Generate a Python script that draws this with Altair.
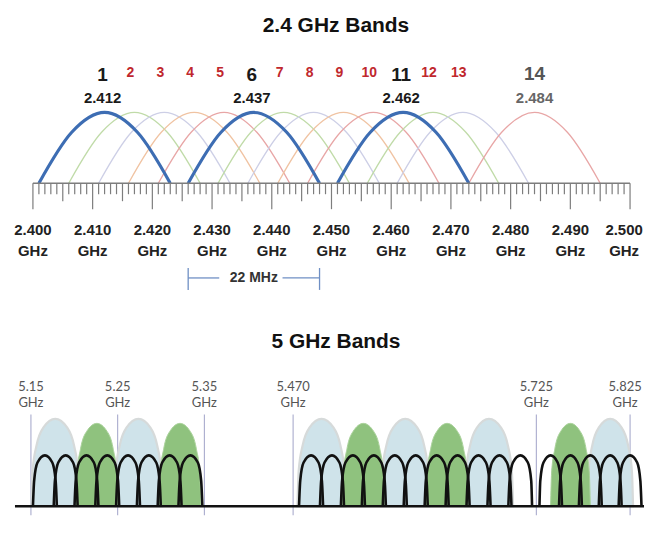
import altair as alt
import pandas as pd

# ---------------- 2.4 GHz data ----------------
CH24 = [1, 2, 3, 4, 5, 6, 7, 8, 9, 10, 11, 12, 13, 14]
CH24_CENTER_GHZ = [2.412, 2.417, 2.422, 2.427, 2.432, 2.437, 2.442,
                   2.447, 2.452, 2.457, 2.462, 2.467, 2.472, 2.484]
CH24_NONOVERLAP = [1, 6, 11]
CH24_WIDTH_GHZ = 0.022
AXIS_LABEL_GHZ = [2.400, 2.410, 2.420, 2.430, 2.440, 2.450,
                  2.460, 2.470, 2.480, 2.490, 2.500]
RULER_MHZ = list(range(2400, 2501))
SPAN_CH = 6  # the "22 MHz" bracket marks channel 6

# ---------------- 5 GHz data ----------------
CH5 = [36, 40, 44, 48, 52, 56, 60, 64,
       100, 104, 108, 112, 116, 120, 124, 128, 132, 136, 140,
       149, 153, 157, 161, 165]
CH5_CENTER_MHZ = [5180, 5200, 5220, 5240, 5260, 5280, 5300, 5320,
                  5500, 5520, 5540, 5560, 5580, 5600, 5620, 5640, 5660, 5680, 5700,
                  5745, 5765, 5785, 5805, 5825]
BOND_BLUE_MHZ = [5190, 5270, 5510, 5590, 5670, 5805]
BOND_GREEN_MHZ = [5230, 5310, 5550, 5630, 5765]
EDGE_MHZ = [5150, 5250, 5350, 5470, 5725, 5825]
EDGE_LABEL = ["5.15", "5.25", "5.35", "5.470", "5.725", "5.825"]

# ---------------- shape profiles (glyph styles) ----------------
ARC_T = [-1, -0.5, 0, 0.5, 1]
ARC_H = [0, 0.72, 1, 0.72, 0]
BLK_T = [-1, -0.9, -0.62, 0, 0.62, 0.9, 1]
BLK_H = [0, 0.5, 0.86, 1, 0.86, 0.5, 0]
FILL_T = [-1, -0.95, -0.78, -0.5, 0, 0.5, 0.78, 0.95, 1]
FILL_H = [0, 0.4, 0.7, 0.9, 1, 0.9, 0.7, 0.4, 0]

FONT = "Liberation Sans"
W = 638
H_TOP = 296
H_BOT = 212


def arch_frame(ids, centers, half, t_prof, h_prof, peak=1.0):
    rows = []
    for cid, c in zip(ids, centers):
        for t, h in zip(t_prof, h_prof):
            rows.append({"id": str(cid), "x": c + t * half, "lvl": h * peak})
    return pd.DataFrame(rows)


# ================= TOP PANEL =================
BASE_Y = 175
x24 = alt.Scale(domain=[2.400, 2.500], range=[25, 624], nice=False, zero=False)
y24 = alt.Scale(domain=[0, 1], range=[BASE_Y, BASE_Y - 71], nice=False, zero=False)
X24 = lambda f="x": alt.X(f"{f}:Q", scale=x24, axis=None)

thin_ids = [c for c in CH24 if c not in CH24_NONOVERLAP]
thin_centers = [CH24_CENTER_GHZ[CH24.index(c)] for c in thin_ids]
thick_centers = [CH24_CENTER_GHZ[CH24.index(c)] for c in CH24_NONOVERLAP]

cycle = {1: "#c0dba8", 2: "#cdcfe6", 3: "#f0c3a2", 4: "#e8a6a6"}
thin_colors = [("#e8a6a6" if c == 14 else cycle[(c - 1) % 5]) for c in thin_ids]

arcs_thin = arch_frame(thin_ids, thin_centers, CH24_WIDTH_GHZ / 2, ARC_T, ARC_H)
arcs_thick = arch_frame(CH24_NONOVERLAP, thick_centers, CH24_WIDTH_GHZ / 2, ARC_T, ARC_H)

thin_layer = alt.Chart(arcs_thin).mark_line(interpolate="monotone", strokeWidth=1.3).encode(
    x=X24(), y=alt.Y("lvl:Q", scale=y24, axis=None),
    color=alt.Color("id:N", scale=alt.Scale(domain=[str(c) for c in thin_ids], range=thin_colors), legend=None),
    detail="id:N")
thick_layer = alt.Chart(arcs_thick).mark_line(interpolate="monotone", strokeWidth=3.2, color="#3d6db3").encode(
    x=X24(), y=alt.Y("lvl:Q", scale=y24, axis=None), detail="id:N")

ruler = pd.DataFrame({"x": [m / 1000 for m in RULER_MHZ], "m": RULER_MHZ})
ruler["kind"] = ["major" if m % 10 == 0 else ("mid" if m % 5 == 0 else "minor") for m in RULER_MHZ]

tick_layers = []
for kind, length in [("minor", 11), ("mid", 18), ("major", 26)]:
    tick_layers.append(
        alt.Chart(ruler[ruler.kind == kind]).mark_rule(color="#7d7d7d", strokeWidth=1.2).encode(
            x=X24(), y=alt.value(BASE_Y), y2=alt.value(BASE_Y + length)))

ruler_base = alt.Chart(pd.DataFrame({"a": [AXIS_LABEL_GHZ[0]], "b": [AXIS_LABEL_GHZ[-1]]})).mark_rule(
    color="#7d7d7d", strokeWidth=1.3).encode(x=X24("a"), x2="b:Q", y=alt.value(BASE_Y))

axlab = pd.DataFrame({"x": AXIS_LABEL_GHZ})
axlab_in = axlab.iloc[:-1]
axlab_last = axlab.iloc[-1:]
axis_labels = []
for df, dx in [(axlab_in, 0), (axlab_last, -6)]:
    axis_labels.append(alt.Chart(df).mark_text(font=FONT, fontSize=15, fontWeight="bold", color="#222", dx=dx).encode(
        x=X24(), y=alt.value(222), text=alt.Text("x:Q", format=".3f")))
    axis_labels.append(alt.Chart(df).mark_text(font=FONT, fontSize=15, fontWeight="bold", color="#222", dx=dx).encode(
        x=X24(), y=alt.value(243), text=alt.value("GHz")))

lab = pd.DataFrame({"id": [str(c) for c in CH24], "x": CH24_CENTER_GHZ})
lab_black = lab[lab.id.isin([str(c) for c in CH24_NONOVERLAP])]
lab_red = lab[~lab.id.isin([str(c) for c in CH24_NONOVERLAP] + ["14"])]
lab_gray = lab[lab.id == "14"]

num_black = alt.Chart(lab_black).mark_text(font=FONT, fontSize=19, fontWeight="bold", color="#1a1a1a", dx=-2).encode(
    x=X24(), y=alt.value(66), text="id:N")
num_red = alt.Chart(lab_red).mark_text(font=FONT, fontSize=14, fontWeight="bold", color="#c0272d", dx=-4).encode(
    x=X24(), y=alt.value(64), text="id:N")
num_gray = alt.Chart(lab_gray).mark_text(font=FONT, fontSize=19, fontWeight="bold", color="#555555").encode(
    x=X24(), y=alt.value(65), text="id:N")
freq_black = alt.Chart(lab_black).mark_text(font=FONT, fontSize=15, fontWeight="bold", color="#1a1a1a", dx=-2).encode(
    x=X24(), y=alt.value(89), text=alt.Text("x:Q", format=".3f"))
freq_gray = alt.Chart(lab_gray).mark_text(font=FONT, fontSize=15, fontWeight="bold", color="#666666").encode(
    x=X24(), y=alt.value(89), text=alt.Text("x:Q", format=".3f"))

c6 = CH24_CENTER_GHZ[CH24.index(SPAN_CH)]
lo, hi = c6 - CH24_WIDTH_GHZ / 2, c6 + CH24_WIDTH_GHZ / 2
br_seg = pd.DataFrame({"a": [lo, c6 + 0.0048], "b": [c6 - 0.0058, hi]})
bracket_h = alt.Chart(br_seg).mark_rule(color="#6f8fc4", strokeWidth=1.3).encode(
    x=X24("a"), x2="b:Q", y=alt.value(270))
bracket_v = alt.Chart(pd.DataFrame({"x": [lo, hi]})).mark_rule(color="#6f8fc4", strokeWidth=1.3).encode(
    x=X24(), y=alt.value(260), y2=alt.value(282))
bracket_t = alt.Chart(pd.DataFrame({"x": [c6], "t": ["22 MHz"]})).mark_text(
    font=FONT, fontSize=14, fontWeight="bold", color="#333").encode(x=X24(), y=alt.value(270), text="t:N")

title_top = alt.Chart(pd.DataFrame({"t": ["2.4 GHz Bands"]})).mark_text(
    font=FONT, fontSize=21, fontWeight="bold", color="#111").encode(
    x=alt.value(329), y=alt.value(17), text="t:N")

top = alt.layer(
    thin_layer, thick_layer, ruler_base, *tick_layers, *axis_labels,
    num_black, num_red, num_gray, freq_black, freq_gray,
    bracket_h, bracket_v, bracket_t, title_top
).properties(width=W, height=H_TOP)

# ================= BOTTOM PANEL =================
# bottom panel starts at page y = 8 + H_TOP = 304
BASE5 = 203
x5 = alt.Scale(domain=[5150, 5167, 5332, 5350, 5470, 5487, 5711, 5725, 5734, 5836],
               range=[23, 23.45, 195.5, 197, 286, 290.35, 525.55, 530, 533.3, 635],
               nice=False, zero=False)
y5 = alt.Scale(domain=[0, 1], range=[BASE5, BASE5 - 51], nice=False, zero=False)
X5 = lambda f="x": alt.X(f"{f}:Q", scale=x5, axis=None)
Y5 = alt.Y("lvl:Q", scale=y5, axis=None, stack=None)

edges = pd.DataFrame({"x": EDGE_MHZ, "lab": EDGE_LABEL})
edges_in = edges.iloc[:-1]
edges_last = edges.iloc[-1:]
edge_lines = alt.Chart(edges).mark_rule(color="#a9abcd", strokeWidth=1.1).encode(
    x=X5(), y=alt.value(111), y2=alt.value(H_BOT))
edge_labs = []
for df, dx in [(edges_in, 0), (edges_last, -5)]:
    edge_labs.append(alt.Chart(df).mark_text(font="Lato", fontSize=13, color="#555", dx=dx).encode(
        x=X5(), y=alt.value(83), text="lab:N"))
    edge_labs.append(alt.Chart(df).mark_text(font="Lato", fontSize=13, color="#555", dx=dx).encode(
        x=X5(), y=alt.value(99), text=alt.value("GHz")))

blue_df = arch_frame(range(len(BOND_BLUE_MHZ)), BOND_BLUE_MHZ, 23, FILL_T, FILL_H, peak=1.72)
green_df = arch_frame(range(len(BOND_GREEN_MHZ)), BOND_GREEN_MHZ, 20, FILL_T, FILL_H, peak=1.63)
blk_df = arch_frame(CH5, CH5_CENTER_MHZ, 11.5, BLK_T, BLK_H)

blue_layer = alt.Chart(blue_df).mark_area(interpolate="monotone", fill="#cfe3ea", stroke="#d6dada",
                                          strokeWidth=2.2).encode(x=X5(), y=Y5, detail="id:N")
green_layer = alt.Chart(green_df).mark_area(interpolate="monotone", fill="#8fc27e", stroke="#a9d19a",
                                            strokeWidth=1).encode(x=X5(), y=Y5, detail="id:N")
blk_layer = alt.Chart(blk_df).mark_line(interpolate="monotone", color="#111111", strokeWidth=2.6).encode(
    x=X5(), y=alt.Y("lvl:Q", scale=y5, axis=None), detail="id:N")

baseline = alt.Chart(pd.DataFrame({"a": [0]})).mark_rule(color="#111111", strokeWidth=2.6).encode(
    x=alt.value(7), x2=alt.value(W), y=alt.value(BASE5))

title_bot = alt.Chart(pd.DataFrame({"t": ["5 GHz Bands"]})).mark_text(
    font=FONT, fontSize=21, fontWeight="bold", color="#111").encode(
    x=alt.value(329), y=alt.value(38), text="t:N")

bottom = alt.layer(
    edge_lines, blue_layer, green_layer, blk_layer, baseline, *edge_labs, title_bot
).properties(width=W, height=H_BOT)

chart = alt.vconcat(top, bottom, spacing=0, padding=0, background="white").configure_view(
    stroke=None, strokeWidth=0)

chart.save("out.html", embed_options={"renderer": "svg", "actions": False})
